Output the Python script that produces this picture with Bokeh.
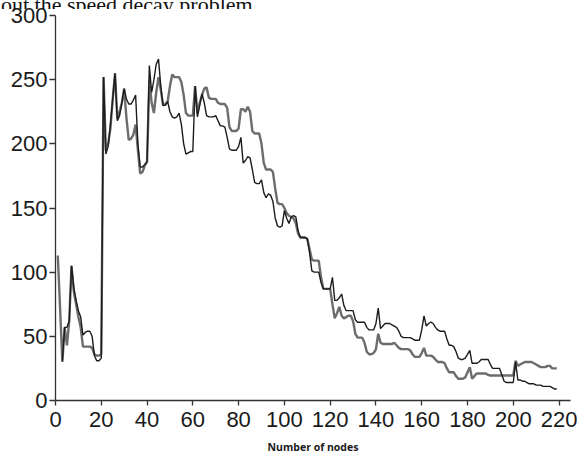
from bokeh.plotting import figure
from bokeh.models import Range1d, FixedTicker, Div
from bokeh.layouts import column
from bokeh.embed import file_html
from bokeh.resources import INLINE

# ---- data ----
gray_vals = [
    113, 72, 30, 57, 43, 62, 105, 85, 75, 65,          # 1-10
    57, 42, 42, 42, 42, 41, 36, 35, 35, 36,            # 11-20
    252, 195, 200, 212, 235, 255, 220, 225, 232, 243,  # 21-30
    220, 203, 204, 207, 215, 195, 177, 178, 183, 186,  # 31-40
    250, 232, 224, 240, 252, 242, 230, 231, 233, 245,  # 41-50
    254, 252, 252, 252, 248, 238, 224, 222, 222, 222,  # 51-60
    245, 224, 232, 238, 243, 244, 236, 235, 235, 235,  # 61-70
    232, 231, 231, 231, 228, 213, 210, 210, 210, 212,  # 71-80
    227, 227, 225, 229, 225, 210, 208, 208, 208, 200,  # 81-90
    185, 180, 180, 180, 178, 165, 154, 153, 153, 150,  # 91-100
    146, 144, 143, 142, 138, 130, 127, 127, 127, 126,  # 101-110
    118, 110, 109, 109, 109, 96, 87, 87, 87, 87,       # 111-120
    75, 64, 68, 73, 66, 64, 65, 66, 66, 62,            # 121-130
    52, 49, 49, 49, 45, 38, 36, 36, 37, 40,            # 131-140
    52, 45, 44, 44, 44, 44, 44, 45, 43, 41,            # 141-150
    40, 40, 40, 40, 39, 36, 34, 34, 34, 37,            # 151-160
    41, 35, 35, 35, 34, 32, 30, 30, 30, 29,            # 161-170
    25, 22, 22, 22, 19, 17, 17, 17, 18, 22,            # 171-180
    26, 17, 19, 21, 21, 21, 21, 21, 20, 19.5,          # 181-190
    19.5, 19.5, 19.5, 19.5, 19.5, 19.5, 19.5, 19.5, 19.5, 19.5,  # 191-200
    31, 27, 28, 29, 30, 30, 30, 30, 29, 28,            # 201-210
    27, 26, 26, 26, 27, 27, 25, 25, 25,                # 211-219
]
gray_nodes = list(range(1, 1 + len(gray_vals)))

black_vals = [
    31, 57, 57, 62, 105, 88, 78, 70,                   # 3-10
    65, 51, 53, 54, 54, 50, 35, 31, 31, 33,            # 11-20
    252, 192, 198, 215, 235, 255, 218, 222, 232, 243,  # 21-30
    235, 231, 231, 234, 238, 200, 182, 182, 184, 186,  # 31-40
    261, 240, 250, 262, 266, 245, 230, 230, 233, 225,  # 41-50
    221, 220, 221, 224, 215, 200, 192, 193, 194, 194,  # 51-60
    245, 221, 230, 239, 232, 222, 221, 221, 221, 222,  # 61-70
    218, 214, 214, 213, 205, 196, 195, 195, 195, 198,  # 71-80
    205, 185, 187, 190, 189, 180, 170, 169, 169, 172,  # 81-90
    162, 158, 161, 160, 155, 142, 136, 135, 136, 148,  # 91-100
    142, 138, 143, 144, 143, 132, 127, 127, 127, 126,  # 101-110
    115, 101, 100, 100, 100, 92, 87, 87, 87, 87,       # 111-120
    96, 78, 78, 80, 83, 74, 70, 70, 70, 70,            # 121-130
    63, 61, 61, 61, 61, 57, 55, 55, 55, 60,            # 131-140
    72, 56, 58, 60, 60, 60, 59, 58, 57, 54,            # 141-150
    50, 49, 49, 49, 49, 48, 47, 47, 47, 55,            # 151-160
    66, 58, 60, 61, 60, 57, 55, 54, 54, 54,            # 161-170
    48, 43, 43, 42, 38, 33, 32, 32, 33, 36,            # 171-180
    39, 29, 29, 29, 30, 32, 32, 32, 32, 28,            # 181-190
    25, 25, 25, 25, 20, 15, 14, 14, 14, 14,            # 191-200
    30, 16, 16, 15, 15, 14, 13, 13, 13, 12,            # 201-210
    12, 12, 11, 11, 11, 11, 10, 9, 9,                  # 211-219
]
black_nodes = list(range(3, 3 + len(black_vals)))

x_ticks = list(range(0, 221, 20))
y_ticks = list(range(0, 301, 50))
x_label = "Number of nodes"
caption = "out the speed decay problem."

TICK_FONT = "Liberation Sans Narrow, Liberation Sans"

# clipped caption line from the scanned page above the chart (overlaid on top edge)
cap = Div(
    text=('<div style="font-family:\'Liberation Serif\',serif;font-size:22px;'
          'line-height:22px;margin-top:-14px;padding-left:1px;white-space:nowrap;'
          'color:#111111;">' + caption + '</div>'),
    width=577, height=9, margin=(0, 0, 0, 0),
    styles={"position": "absolute", "top": "0px", "left": "0px", "z-index": "10",
            "overflow": "hidden", "height": "9px", "pointer-events": "none"},
)

p = figure(width=577, height=456, output_backend="svg", toolbar_location=None,
           x_range=Range1d(0, 225), y_range=Range1d(0, 300),
           min_border_left=55, min_border_right=7, min_border_top=15, min_border_bottom=56,
           margin=(0, 0, 0, 0))
p.background_fill_color = "white"
p.border_fill_color = "white"
p.outline_line_color = None
p.xgrid.grid_line_color = None
p.ygrid.grid_line_color = None

p.line(gray_nodes, gray_vals, line_color="#6c6c6c", line_width=2.4)
p.line(black_nodes, black_vals, line_color="#1c1c1c", line_width=1.4)

for ax in (p.xaxis[0], p.yaxis[0]):
    ax.axis_line_color = "#333333"
    ax.axis_line_width = 1.3
    ax.major_tick_line_color = "#333333"
    ax.major_tick_line_width = 1.3
    ax.major_tick_in = 0
    ax.minor_tick_line_color = None
    ax.major_label_text_font = TICK_FONT
    ax.major_label_text_font_size = "22px"
    ax.major_label_text_color = "#1a1a1a"

p.xaxis.major_tick_out = 5
p.xaxis.major_label_standoff = 6
p.yaxis.major_tick_out = 6
p.yaxis.major_label_standoff = 2

p.xaxis.ticker = FixedTicker(ticks=x_ticks)
p.yaxis.ticker = FixedTicker(ticks=y_ticks)

p.xaxis.axis_label = x_label
p.xaxis.axis_label_text_font = "Open Sans"
p.xaxis.axis_label_text_font_style = "bold"
p.xaxis.axis_label_text_font_size = "10.5px"
p.xaxis.axis_label_text_color = "#1a1a1a"
p.xaxis.axis_label_standoff = 10

layout = column(cap, p, spacing=0, margin=(0, 0, 0, 0))

open("out.html", "w").write(file_html(layout, INLINE))
